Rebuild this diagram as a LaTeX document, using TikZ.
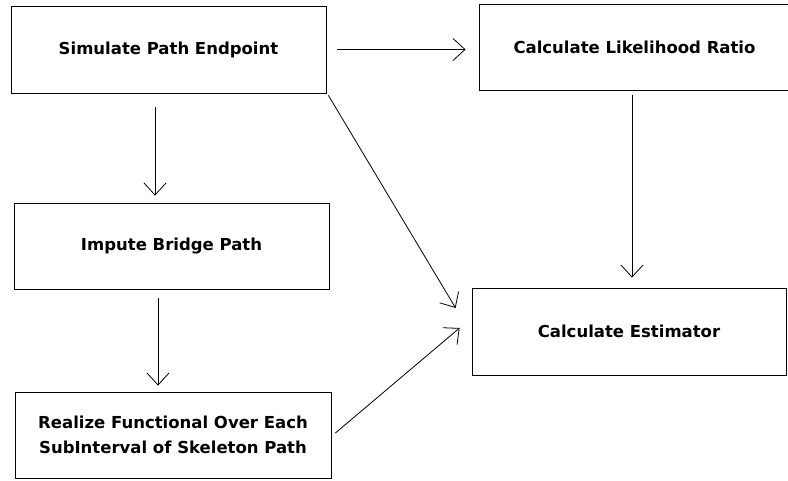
\documentclass[tikz,border=0pt]{standalone}
\usepackage{fontspec}
\setmainfont{DejaVu Sans}
\usetikzlibrary{arrows.meta}

\tikzset{
	stage/.style={draw, line width=0.8pt, inner sep=0pt, align=center,
		font=\bfseries\fontsize{16.5}{25}\selectfont},
	arr/.style={line width=0.8pt, -{Straight Barb[length=12pt,width=22pt,line width=0.8pt]}}
}

\begin{document}
\begin{tikzpicture}[x=1pt,y=-1pt]
	\useasboundingbox (0,0) rectangle (788,481);
	% boxes
	\node[stage, minimum width=315pt, minimum height=87pt] (sim) at (168.5,49.5) {Simulate Path Endpoint};
	\node[stage, minimum width=311pt, minimum height=86pt] (lik) at (634.5,47) {Calculate Likelihood Ratio};
	\node[stage, minimum width=315pt, minimum height=86pt] (imp) at (171.5,246) {Impute Bridge Path};
	\node[stage, minimum width=314pt, minimum height=87pt] (est) at (629,331.5) {Calculate Estimator};
	\node[stage, minimum width=316pt, minimum height=86pt] (rea) at (173,435) {Realize Functional Over Each\\SubInterval of Skeleton Path};
	% arrows
	\draw[arr, shorten <=11pt, shorten >=13pt] (sim.east) -- (sim.east -| lik.west);
	\draw[arr] ([shift={(-13.5,14)}]sim.south) -- ([shift={(-16.5,-7)}]imp.north);
	\draw[arr] ([shift={(-13.5,9)}]imp.south) -- ([shift={(-15,-6)}]rea.north);
	\draw[arr] ([shift={(-2.5,5)}]lik.south) -- ([shift={(3,-10)}]est.north);
	\draw[arr] ([shift={(2,2)}]sim.south east) -- ([shift={(-16,-23.5)}]est.west);
	\draw[arr] ([shift={(4,-2)}]rea.east) -- ([shift={(-12,-3.5)}]est.west);
\end{tikzpicture}
\end{document}
